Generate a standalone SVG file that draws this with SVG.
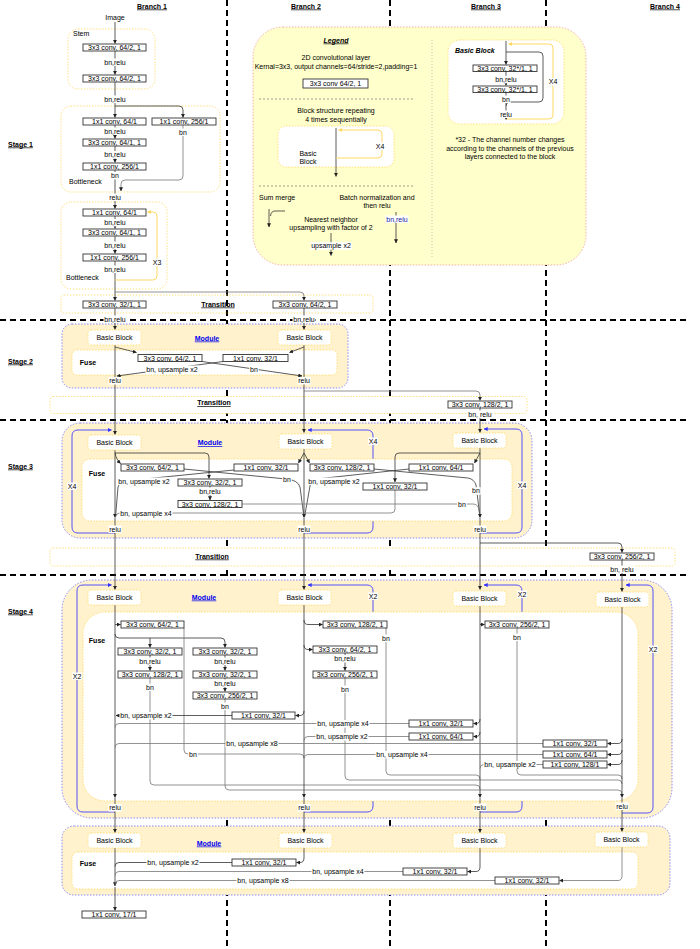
<svg xmlns="http://www.w3.org/2000/svg" width="700" height="949" viewBox="0 0 700 949">
<style>
text{font-family:"Liberation Sans",Arial,Helvetica,sans-serif;font-size:7px;fill:#000;text-anchor:middle}
.b{font-weight:bold}
.u{text-decoration:underline}
.i{font-style:italic}
.st{text-anchor:start}
.w{fill:#fff;stroke:none}
.cv{fill:#fff;stroke:#333;stroke-width:0.9}
.grid{stroke:#000;stroke-width:2;stroke-dasharray:6 4;fill:none}
.yb{fill:none;stroke:#ffd966;stroke-width:0.8;stroke-dasharray:1.5 1.5}
.yw{fill:#fff;stroke:#ffd966;stroke-width:0.8;stroke-dasharray:1.5 1.5}
.mod{fill:#fff2cc;stroke:#7070ff;stroke-width:0.8;stroke-dasharray:1.5 1.5}
.ln{fill:none;stroke:#333;stroke-width:0.8}
.lg{fill:none;stroke:#777;stroke-width:0.8}
.bl{fill:none;stroke:#4040ff;stroke-width:0.9}
.yl{fill:none;stroke:#ffd966;stroke-width:1}
.mt{fill:#0000ee;font-weight:bold;text-decoration:underline}
.sep{fill:none;stroke:#777;stroke-width:0.7;stroke-dasharray:2 2}
</style>
<defs>
<marker id="a" viewBox="0 0 6 6" refX="5.5" refY="3" markerWidth="4" markerHeight="4" markerUnits="userSpaceOnUse" orient="auto"><path d="M0,0L6,3L0,6z" fill="#222"/></marker>
<marker id="ab" viewBox="0 0 6 6" refX="5.5" refY="3" markerWidth="4" markerHeight="4" markerUnits="userSpaceOnUse" orient="auto"><path d="M0,0L6,3L0,6z" fill="#3030ff"/></marker>
<marker id="ay" viewBox="0 0 6 6" refX="5.5" refY="3" markerWidth="4" markerHeight="4" markerUnits="userSpaceOnUse" orient="auto"><path d="M0,0L6,3L0,6z" fill="#ffd966"/></marker>
</defs>
<rect width="700" height="949" fill="#fff"/>

<g id="grid">
<path class="grid" d="M227,0V949M390,0V949M546,0V949M0,320H686M0,420H686M0,575H686"/>
</g>

<g id="headers">
<text class="b u" x="152" y="8.5">Branch 1</text>
<text class="b u" x="306" y="8.5">Branch 2</text>
<text class="b u" x="486" y="8.5">Branch 3</text>
<text class="b u" x="665" y="8.5">Branch 4</text>
<text class="b u st" x="8" y="146.5">Stage 1</text>
<text class="b u st" x="8" y="363.5">Stage 2</text>
<text class="b u st" x="8" y="468.5">Stage 3</text>
<text class="b u st" x="8" y="613.5">Stage 4</text>
</g>

<!-- Legend -->
<g id="legend">
<rect x="253" y="27" width="333" height="238" rx="30" fill="#ffffcc" stroke="#f0a09c" stroke-width="0.8" stroke-dasharray="1.5 1.5"/>
<text class="b i u" x="336" y="42.5">Legend</text>
<text x="336" y="60.2">2D convolutional layer</text>
<text x="336" y="69.2">Kernal=3x3, output channels=64/stride=2,padding=1</text>
<rect class="cv" x="303" y="79" width="65" height="9"/>
<text x="335.5" y="86">3x3 conv 64/2, 1</text>
<path class="sep" d="M259,99H413M259,186H413"/>
<path fill="none" stroke="#aaa" stroke-width="0.7" stroke-dasharray="1 2" d="M432,40V257"/>
<text x="336" y="112.5">Block structure repeating</text>
<text x="336" y="121.5">4 times sequentially</text>
<rect class="yw" x="278" y="126" width="116" height="41" rx="8"/>
<path class="ln" d="M336,128V176.5" marker-end="url(#a)"/>
<path class="yl" d="M336,158H378Q382,158 382,154V134Q382,130 378,130H338.5" marker-end="url(#ay)"/>
<rect class="w" x="375" y="142.5" width="10" height="7.5"/><text x="380" y="148.5">X4</text>
<text x="308" y="155.8">Basic</text>
<text x="308" y="164.2">Block</text>
<text class="st" x="259" y="200.2">Sum merge</text>
<path class="ln" d="M269,209V227" marker-end="url(#a)"/>
<path class="ln" d="M270.5,216Q271,211 275,211H285"/>
<text x="377" y="200.2">Batch normalization and</text>
<text x="377" y="208.2">then relu</text>
<path class="ln" d="M396,212V243" marker-end="url(#a)"/>
<rect class="w" x="385.5" y="215.5" width="23" height="7.5"/><text x="397" y="221.5" style="fill:#1c1c9c">bn,relu</text>
<text x="331" y="221.8">Nearest neighbor</text>
<text x="331" y="229.8">upsampling with factor of 2</text>
<path class="ln" d="M331,233V255.5" marker-end="url(#a)"/>
<rect class="w" x="310.5" y="242.2" width="41" height="7.5"/><text x="331" y="248.2">upsample x2</text>
<rect class="yw" x="448" y="40" width="116" height="84" rx="12"/>
<text class="b i st" x="455" y="53.2">Basic Block</text>
<path class="yl" d="M506,119H549Q553,119 553,115V48Q553,44 549,44H508.5" marker-end="url(#ay)"/>
<path class="ln" d="M506,41V64.5" marker-end="url(#a)"/>
<path class="ln" d="M506,52H539Q543,52 543,56V98Q543,102 539,102H510Q506,102 506,106"/>
<path class="ln" d="M506,71.5V85.5" marker-end="url(#a)"/>
<path class="ln" d="M506,92.5V119.5" marker-end="url(#a)"/>
<rect class="cv" x="473" y="65" width="64" height="6.5"/>
<text x="505" y="70.5">3x3 conv, 32*/1, 1</text>
<rect class="cv" x="473" y="86" width="64" height="6.5"/>
<text x="505" y="91.5">3x3 conv, 32*/1, 1</text>
<rect class="w" x="494.5" y="75.8" width="23" height="7.5"/><text x="506" y="81.8">bn,relu</text>
<rect class="w" x="501.25" y="95.5" width="9.5" height="7.5"/><text x="506" y="101.5">bn</text>
<rect class="w" x="499.5" y="110.5" width="13" height="7.5"/><text x="506" y="116.5">relu</text>
<rect class="w" x="548" y="78.2" width="10" height="7.5"/><text x="553" y="84.2">X4</text>
<text x="510" y="141.8">*32 - The channel number changes</text>
<text x="510" y="150.8">according to the channels of the previous</text>
<text x="510" y="159.2">layers connected to the block</text>
</g>

<!-- containers -->
<g id="stem-box"><rect class="yb" x="68" y="29" width="87" height="60" rx="10"/><text class="st" x="73" y="36">Stem</text></g>
<g id="stage1-bottleneck1"><rect class="yb" x="61" y="106" width="159" height="86" rx="10"/><text class="st" x="69" y="183.5">Bottleneck</text></g>
<g id="stage1-bottleneck2"><rect class="yb" x="61" y="202" width="106" height="87" rx="10"/><text class="st" x="66" y="279.5">Bottleneck</text></g>
<g id="transition1"><rect class="yb" x="61" y="295" width="312" height="18" rx="3"/><text class="b u" x="218" y="306.5">Transition</text></g>
<g id="stage2-module"><rect class="mod" x="62" y="324" width="286" height="64" rx="10"/><text class="mt" x="207" y="340.5">Module</text>
<rect class="yw" x="72" y="350" width="265" height="25" rx="5"/><text class="b" x="88" y="364.5">Fuse</text></g>
<g id="transition2"><rect class="yw" x="50" y="396.5" width="477" height="17" rx="3"/><text class="b u" x="214" y="405">Transition</text></g>
<g id="stage3-module"><rect class="mod" x="62" y="423" width="470" height="115" rx="18"/><text class="mt" x="210" y="445.2">Module</text></g>
<g id="transition3"><rect class="yw" x="50" y="548" width="625" height="18" rx="3"/><text class="b u" x="212" y="558.5">Transition</text></g>
<g id="stage4-module"><rect class="mod" x="62" y="580" width="610" height="238" rx="30"/><text class="mt" x="204" y="599.5">Module</text></g>
<g id="final-module"><rect class="mod" x="62" y="826" width="608" height="69" rx="12"/><text class="mt" x="209" y="845.5">Module</text>
<rect class="yw" x="72" y="852" width="566" height="37" rx="6"/><text class="b" x="88" y="865.5">Fuse</text></g>

<!-- repeat loops -->
<g id="loops">
<path class="bl" d="M115,533H78Q72,533 72,527V436Q72,430 78,430H111.5" marker-end="url(#ab)"/>
<path class="bl" d="M304,533H367Q373,533 373,527V436Q373,430 367,430H308" marker-end="url(#ab)"/>
<path class="bl" d="M480,533H516Q522,533 522,527V435Q522,429 516,429H484" marker-end="url(#ab)"/>
<path class="bl" d="M115,812H83Q77,812 77,806V591Q77,585 83,585H111.5" marker-end="url(#ab)"/>
<path class="bl" d="M304,812H367Q373,812 373,806V591Q373,585 367,585H308" marker-end="url(#ab)"/>
<path class="bl" d="M480,812H516Q522,812 522,806V591Q522,585 516,585H484" marker-end="url(#ab)"/>
<path class="bl" d="M622,813H647Q653,813 653,807V591Q653,585 647,585H626" marker-end="url(#ab)"/>
</g>
<g id="stage3-fuse"><rect class="yw" x="82" y="459" width="430" height="62" rx="8"/><text class="b" x="97" y="475.5">Fuse</text></g>
<g id="stage4-fuse"><rect class="yw" x="83" y="612" width="555" height="189" rx="22"/><text class="b" x="97" y="642.5">Fuse</text></g>

<!-- connectors -->
<g id="connectors">
<path class="ln" d="M115,22V43.5" marker-end="url(#a)"/>
<path class="ln" d="M115,51V74.5" marker-end="url(#a)"/>
<path class="ln" d="M115,82V117.5" marker-end="url(#a)"/>
<path class="ln" d="M115,106H179Q183,106 183,110V117.5" marker-end="url(#a)"/>
<path class="ln" d="M115,125V138.5" marker-end="url(#a)"/>
<path class="ln" d="M115,146V162.5" marker-end="url(#a)"/>
<path class="ln" d="M115,170V208.5" marker-end="url(#a)"/>
<path class="lg" d="M183,125V176Q183,180 179,180H125Q121,180 121,184V191" marker-end="url(#a)"/>
<path class="ln" d="M115,216V228.5" marker-end="url(#a)"/>
<path class="ln" d="M115,236V253.5" marker-end="url(#a)"/>
<path class="ln" d="M115,261V300.5" marker-end="url(#a)"/>
<path class="yl" d="M115,280H153Q157,280 157,276V216Q157,212 153,212H147.5" marker-end="url(#ay)"/>
<path class="lg" d="M115,292H300Q304,292 304,296V300.5" marker-end="url(#a)"/>
<path class="ln" d="M115,308V329.5" marker-end="url(#a)"/>
<path class="ln" d="M304,308V329.5" marker-end="url(#a)"/>
<path class="ln" d="M115,345V434.5" marker-end="url(#a)"/>
<path class="ln" d="M304,345V432.5" marker-end="url(#a)"/>
<path class="ln" d="M115,347L136.5,352.5" marker-end="url(#a)"/>
<path class="ln" d="M304,347L289.5,352.5" marker-end="url(#a)"/>
<path class="ln" d="M202,361.5L302,376" marker-end="url(#a)"/>
<path class="ln" d="M223,361.5L117,376" marker-end="url(#a)"/>
<path class="lg" d="M304,391H476Q480,391 480,395V400.5" marker-end="url(#a)"/>
<path class="ln" d="M480,408V432.5" marker-end="url(#a)"/>
<path class="ln" d="M115,450V517.5" marker-end="url(#a)"/>
<path class="ln" d="M115,518V589.5" marker-end="url(#a)"/>
<path class="ln" d="M115,453C116,458 118,461 120.5,463.5" marker-end="url(#a)"/>
<path class="ln" d="M115,453H205Q209,453 209,457V478.5" marker-end="url(#a)"/>
<path class="ln" d="M184,469L286,479Q298,480 300,487L304,517"/>
<path class="ln" d="M234,470L124,481Q119,482 118,487L115.5,517"/>
<path class="ln" d="M304,449V517.5" marker-end="url(#a)"/>
<path class="ln" d="M304,518V589.5" marker-end="url(#a)"/>
<path class="ln" d="M304,453L298.5,463" marker-end="url(#a)"/>
<path class="ln" d="M304,453L309.5,463" marker-end="url(#a)"/>
<path class="ln" d="M374,469L468,478Q474,479 476,485L480,517"/>
<path class="ln" d="M409,469L316,479Q311,480 310,486L304.5,517"/>
<path class="ln" d="M210,486V500" marker-end="url(#a)"/>
<path class="lg" d="M242,504H473Q478,504 479,510L480,517"/>
<path class="ln" d="M480,448V517.5" marker-end="url(#a)"/>
<path class="ln" d="M480,518V589.5" marker-end="url(#a)"/>
<path class="ln" d="M480,453H399Q395,453 395,457V482" marker-end="url(#a)"/>
<path class="lg" d="M395,490V509Q395,513 391,513H120Q116,513 115.5,517"/>
<path class="ln" d="M480,453L474.5,463" marker-end="url(#a)"/>
<path class="ln" d="M480,543H618Q622,543 622,547V552.5" marker-end="url(#a)"/>
<path class="ln" d="M622,560V591.5" marker-end="url(#a)"/>
<path class="ln" d="M115,605V797.5" marker-end="url(#a)"/>
<path class="ln" d="M115,798V832.5" marker-end="url(#a)"/>
<path class="ln" d="M115,624.5H120.5" marker-end="url(#a)"/>
<path class="ln" d="M115,634Q115,638 119,638H221Q225,638 225,642V647.5" marker-end="url(#a)"/>
<path class="ln" d="M150,638V647.5" marker-end="url(#a)"/>
<path class="ln" d="M150,655V670.5" marker-end="url(#a)"/>
<path class="lg" d="M150,678V781Q150,785 154,785H476Q480,785 480,789"/>
<path class="ln" d="M225,655V670.5" marker-end="url(#a)"/>
<path class="ln" d="M225,678V691.5" marker-end="url(#a)"/>
<path class="lg" d="M225,699V786Q225,790 229,790H618Q622,790 622,794"/>
<path class="lg" d="M184,628V750Q184,754 188,754H300Q304,754 304,758"/>
<path class="ln" d="M304,605V797.5" marker-end="url(#a)"/>
<path class="ln" d="M304,798V832.5" marker-end="url(#a)"/>
<path class="ln" d="M304,620Q304,624.5 308,624.5H322.5" marker-end="url(#a)"/>
<path class="ln" d="M304,645Q304,649.5 308,649.5H312.5" marker-end="url(#a)"/>
<path class="ln" d="M304,711Q304,715.5 300,715.5H295.5" marker-end="url(#a)"/>
<path class="ln" d="M232,715.5H116" marker-end="url(#a)"/>
<path class="lg" d="M386,628V771Q386,775 390,775H476Q480,775 480,779"/>
<path class="ln" d="M345,653V670.5" marker-end="url(#a)"/>
<path class="lg" d="M345,678V776Q345,780 349,780H618Q622,780 622,784"/>
<path class="ln" d="M480,606V797.5" marker-end="url(#a)"/>
<path class="ln" d="M480,798V832.5" marker-end="url(#a)"/>
<path class="ln" d="M480,624.5H484.5" marker-end="url(#a)"/>
<path class="ln" d="M480,719Q480,723.5 476,723.5H473.5" marker-end="url(#a)"/>
<path class="ln" d="M480,732Q480,736.5 476,736.5H473.5" marker-end="url(#a)"/>
<path class="lg" d="M409,723.5H119Q115,723.5 115,727.5"/>
<path class="lg" d="M409,736.5H308Q304,736.5 304,740.5"/>
<path class="lg" d="M517,628V771Q517,775 521,775H618Q622,775 622,779"/>
<path class="ln" d="M622,607V797.5" marker-end="url(#a)"/>
<path class="ln" d="M622,798V831.5" marker-end="url(#a)"/>
<path class="ln" d="M622,739Q622,743.5 618,743.5H607.5" marker-end="url(#a)"/>
<path class="ln" d="M622,750Q622,754.5 618,754.5H607.5" marker-end="url(#a)"/>
<path class="ln" d="M622,760Q622,764.5 618,764.5H607.5" marker-end="url(#a)"/>
<path class="lg" d="M543,743.5H119Q115,743.5 115,747.5"/>
<path class="lg" d="M543,754.5H308Q304,754.5 304,758.5"/>
<path class="lg" d="M543,764.5H484Q480,764.5 480,768.5"/>
<path class="ln" d="M115,848V886" marker-end="url(#a)"/>
<path class="ln" d="M115,887V910.5" marker-end="url(#a)"/>
<path class="ln" d="M304,848V858Q304,862.5 300,862.5H296.5" marker-end="url(#a)"/>
<path class="ln" d="M232,862.5H119Q115,862.5 115,866.5"/>
<path class="ln" d="M480,848V867Q480,871.5 476,871.5H467.5" marker-end="url(#a)"/>
<path class="lg" d="M403,871.5H119Q115,871.5 115,875.5"/>
<path class="lg" d="M622,847V876Q622,880.5 618,880.5H559.5" marker-end="url(#a)"/>
<path class="lg" d="M495,880.5H119Q115,880.5 115,884.5"/>
</g>

<!-- nodes -->
<g id="image"><text x="115" y="20">Image</text></g>
<g id="stem-c1"><rect class="cv" x="83" y="44" width="63" height="7"/><text x="114.5" y="50">3x3 conv, 64/2, 1</text></g>
<g id="stem-c2"><rect class="cv" x="83" y="75" width="63" height="7"/><text x="114.5" y="81">3x3 conv, 64/2, 1</text></g>
<g id="s1-c1"><rect class="cv" x="83" y="118" width="63" height="7"/><text x="114.5" y="124">1x1 conv, 64/1</text></g>
<g id="s1-skip"><rect class="cv" x="152" y="118" width="64" height="7"/><text x="184" y="124">1x1 conv, 256/1</text></g>
<g id="s1-c2"><rect class="cv" x="83" y="139" width="63" height="7"/><text x="114.5" y="145">3x3 conv, 64/1, 1</text></g>
<g id="s1-c3"><rect class="cv" x="83" y="163" width="63" height="7"/><text x="114.5" y="169">1x1 conv, 256/1</text></g>
<g id="s1-c4"><rect class="cv" x="83" y="209" width="63" height="7"/><text x="114.5" y="215">1x1 conv, 64/1</text></g>
<g id="s1-c5"><rect class="cv" x="83" y="229" width="63" height="7"/><text x="114.5" y="235">3x3 conv, 64/1, 1</text></g>
<g id="s1-c6"><rect class="cv" x="83" y="254" width="63" height="7"/><text x="114.5" y="260">1x1 conv, 256/1</text></g>
<g id="t1-c1"><rect class="cv" x="83" y="301" width="63" height="7"/><text x="114.5" y="307">3x3 conv, 32/1, 1</text></g>
<g id="t1-c2"><rect class="cv" x="273" y="301" width="64" height="7"/><text x="305" y="307">3x3 conv, 64/2, 1</text></g>
<g id="s2-bb1"><rect class="yw" x="88" y="330" width="53" height="15" rx="3"/><text x="114.5" y="340">Basic Block</text></g>
<g id="s2-bb2"><rect class="yw" x="278" y="330" width="53" height="15" rx="3"/><text x="304.5" y="340">Basic Block</text></g>
<g id="s2-c1"><rect class="cv" x="138" y="354.5" width="64" height="7"/><text x="170" y="360.5">3x3 conv, 64/2, 1</text></g>
<g id="s2-c2"><rect class="cv" x="223" y="354.5" width="65" height="7"/><text x="255.5" y="360.5">1x1 conv, 32/1</text></g>
<g id="t2-c1"><rect class="cv" x="448" y="401" width="64" height="7"/><text x="480" y="407">3x3 conv, 128/2, 1</text></g>
<g id="s3-bb1"><rect class="yw" x="88" y="435" width="53" height="15" rx="3"/><text x="114.5" y="445">Basic Block</text></g>
<g id="s3-bb2"><rect class="yw" x="279" y="434" width="53" height="15" rx="3"/><text x="305.5" y="444">Basic Block</text></g>
<g id="s3-bb3"><rect class="yw" x="453" y="433" width="53" height="15" rx="3"/><text x="479.5" y="443">Basic Block</text></g>
<g id="s3-c1"><rect class="cv" x="121" y="464" width="63" height="7"/><text x="152.5" y="470">3x3 conv, 64/2, 1</text></g>
<g id="s3-c2"><rect class="cv" x="234" y="464" width="64" height="7"/><text x="266" y="470">1x1 conv, 32/1</text></g>
<g id="s3-c3"><rect class="cv" x="310" y="464" width="64" height="7"/><text x="342" y="470">3x3 conv, 128/2, 1</text></g>
<g id="s3-c4"><rect class="cv" x="409" y="464" width="64" height="7"/><text x="441" y="470">1x1 conv, 64/1</text></g>
<g id="s3-c5"><rect class="cv" x="178" y="479" width="64" height="7"/><text x="210" y="485">3x3 conv, 32/2, 1</text></g>
<g id="s3-c6"><rect class="cv" x="178" y="500.5" width="64" height="7"/><text x="210" y="506.5">3x3 conv, 128/2, 1</text></g>
<g id="s3-c7"><rect class="cv" x="363" y="483" width="64" height="7"/><text x="395" y="489">1x1 conv, 32/1</text></g>
<g id="t3-c1"><rect class="cv" x="590" y="553" width="64" height="7"/><text x="622" y="559">3x3 conv, 256/2, 1</text></g>
<g id="s4-bb1"><rect class="yw" x="88" y="590" width="53" height="15" rx="3"/><text x="114.5" y="600">Basic Block</text></g>
<g id="s4-bb2"><rect class="yw" x="278" y="590" width="53" height="15" rx="3"/><text x="304.5" y="600">Basic Block</text></g>
<g id="s4-bb3"><rect class="yw" x="453" y="591" width="53" height="15" rx="3"/><text x="479.5" y="601">Basic Block</text></g>
<g id="s4-bb4"><rect class="yw" x="596" y="592" width="53" height="15" rx="3"/><text x="622.5" y="602">Basic Block</text></g>
<g id="s4-c1"><rect class="cv" x="121" y="621" width="63" height="7"/><text x="152.5" y="627">3x3 conv, 64/2, 1</text></g>
<g id="s4-c2"><rect class="cv" x="118" y="648" width="64" height="7"/><text x="150" y="654">3x3 conv, 32/2, 1</text></g>
<g id="s4-c3"><rect class="cv" x="118" y="671" width="64" height="7"/><text x="150" y="677">3x3 conv, 128/2, 1</text></g>
<g id="s4-c4"><rect class="cv" x="193" y="648" width="64" height="7"/><text x="225" y="654">3x3 conv, 32/2, 1</text></g>
<g id="s4-c5"><rect class="cv" x="193" y="671" width="64" height="7"/><text x="225" y="677">3x3 conv, 32/2, 1</text></g>
<g id="s4-c6"><rect class="cv" x="193" y="692" width="64" height="7"/><text x="225" y="698">3x3 conv, 256/2, 1</text></g>
<g id="s4-c7"><rect class="cv" x="232" y="712" width="63" height="7"/><text x="263.5" y="718">1x1 conv, 32/1</text></g>
<g id="s4-c8"><rect class="cv" x="323" y="621" width="64" height="7"/><text x="355" y="627">3x3 conv, 128/2, 1</text></g>
<g id="s4-c9"><rect class="cv" x="313" y="646" width="64" height="7"/><text x="345" y="652">3x3 conv, 64/2, 1</text></g>
<g id="s4-c10"><rect class="cv" x="313" y="671" width="64" height="7"/><text x="345" y="677">3x3 conv, 256/2, 1</text></g>
<g id="s4-c11"><rect class="cv" x="485" y="621" width="64" height="7"/><text x="517" y="627">3x3 conv, 256/2, 1</text></g>
<g id="s4-c12"><rect class="cv" x="409" y="720" width="64" height="7"/><text x="441" y="726">1x1 conv, 32/1</text></g>
<g id="s4-c13"><rect class="cv" x="409" y="733" width="64" height="7"/><text x="441" y="739">1x1 conv, 64/1</text></g>
<g id="s4-c14"><rect class="cv" x="543" y="740" width="64" height="7"/><text x="575" y="746">1x1 conv, 32/1</text></g>
<g id="s4-c15"><rect class="cv" x="543" y="751" width="64" height="7"/><text x="575" y="757">1x1 conv, 64/1</text></g>
<g id="s4-c16"><rect class="cv" x="543" y="761" width="64" height="7"/><text x="575" y="767">1x1 conv, 128/1</text></g>
<g id="f-bb1"><rect class="yw" x="88" y="833" width="53" height="15" rx="3"/><text x="114.5" y="843">Basic Block</text></g>
<g id="f-bb2"><rect class="yw" x="279" y="833" width="53" height="15" rx="3"/><text x="305.5" y="843">Basic Block</text></g>
<g id="f-bb3"><rect class="yw" x="453" y="833" width="53" height="15" rx="3"/><text x="479.5" y="843">Basic Block</text></g>
<g id="f-bb4"><rect class="yw" x="595" y="832" width="53" height="15" rx="3"/><text x="621.5" y="842">Basic Block</text></g>
<g id="f-c1"><rect class="cv" x="232" y="859" width="64" height="7"/><text x="264" y="865">1x1 conv, 32/1</text></g>
<g id="f-c2"><rect class="cv" x="403" y="868" width="64" height="7"/><text x="435" y="874">1x1 conv, 32/1</text></g>
<g id="f-c3"><rect class="cv" x="495" y="877" width="64" height="7"/><text x="527" y="883">1x1 conv, 32/1</text></g>
<g id="final-conv"><rect class="cv" x="82" y="911" width="64" height="7"/><text x="114" y="917">1x1 conv, 17/1</text></g>

<!-- connector labels -->
<g id="labels">
<rect class="w" x="103.5" y="58.5" width="23" height="7.5"/><text x="115" y="64.5">bn,relu</text>
<rect class="w" x="103.5" y="95.5" width="23" height="7.5"/><text x="115" y="101.5">bn,relu</text>
<rect class="w" x="178.25" y="128.5" width="9.5" height="7.5"/><text x="183" y="134.5">bn</text>
<rect class="w" x="103.5" y="127.5" width="23" height="7.5"/><text x="115" y="133.5">bn,relu</text>
<rect class="w" x="103.5" y="151" width="23" height="7.5"/><text x="115" y="157">bn,relu</text>
<rect class="w" x="110.25" y="172" width="9.5" height="7.5"/><text x="115" y="178">bn</text>
<rect class="w" x="108.5" y="193.5" width="13" height="7.5"/><text x="115" y="199.5">relu</text>
<rect class="w" x="103.5" y="219" width="23" height="7.5"/><text x="115" y="225">bn,relu</text>
<rect class="w" x="103.5" y="241.5" width="23" height="7.5"/><text x="115" y="247.5">bn,relu</text>
<rect class="w" x="103.5" y="265.5" width="23" height="7.5"/><text x="115" y="271.5">bn,relu</text>
<rect class="w" x="152" y="258.5" width="10" height="7.5"/><text x="157" y="264.5">X3</text>
<rect class="w" x="103.5" y="315.5" width="23" height="7.5"/><text x="115" y="321.5">bn,relu</text>
<rect class="w" x="292.5" y="315.5" width="23" height="7.5"/><text x="304" y="321.5">bn,relu</text>
<rect class="w" x="249.25" y="365.5" width="9.5" height="7.5"/><text x="254" y="371.5">bn</text>
<rect class="w" x="145.5" y="365.5" width="53" height="7.5"/><text x="172" y="371.5">bn, upsample x2</text>
<rect class="w" x="108.5" y="377" width="13" height="7.5"/><text x="115" y="383">relu</text>
<rect class="w" x="297.5" y="377" width="13" height="7.5"/><text x="304" y="383">relu</text>
<rect class="w" x="467.5" y="410.5" width="25" height="7.5"/><text x="480" y="416.5">bn, relu</text>
<rect class="w" x="67" y="482.5" width="10" height="7.5"/><text x="72" y="488.5">X4</text>
<rect class="w" x="368" y="437.5" width="10" height="7.5"/><text x="373" y="443.5">X4</text>
<rect class="w" x="517" y="481.5" width="10" height="7.5"/><text x="522" y="487.5">X4</text>
<rect class="w" x="117.5" y="477.5" width="53" height="7.5"/><text x="144" y="483.5">bn, upsample x2</text>
<rect class="w" x="282.25" y="476" width="9.5" height="7.5"/><text x="287" y="482">bn</text>
<rect class="w" x="307.5" y="477.5" width="53" height="7.5"/><text x="334" y="483.5">bn, upsample x2</text>
<rect class="w" x="471.25" y="487.2" width="9.5" height="7.5"/><text x="476" y="493.2">bn</text>
<rect class="w" x="198.5" y="487.5" width="23" height="7.5"/><text x="210" y="493.5">bn,relu</text>
<rect class="w" x="457.25" y="500.5" width="9.5" height="7.5"/><text x="462" y="506.5">bn</text>
<rect class="w" x="119.5" y="509.5" width="53" height="7.5"/><text x="146" y="515.5">bn, upsample x4</text>
<rect class="w" x="108.5" y="525.5" width="13" height="7.5"/><text x="115" y="531.5">relu</text>
<rect class="w" x="297.5" y="525.5" width="13" height="7.5"/><text x="304" y="531.5">relu</text>
<rect class="w" x="473.5" y="525.5" width="13" height="7.5"/><text x="480" y="531.5">relu</text>
<rect class="w" x="609.5" y="565.5" width="25" height="7.5"/><text x="622" y="571.5">bn, relu</text>
<rect class="w" x="72" y="672.5" width="10" height="7.5"/><text x="77" y="678.5">X2</text>
<rect class="w" x="368" y="592.5" width="10" height="7.5"/><text x="373" y="598.5">X2</text>
<rect class="w" x="517" y="590.5" width="10" height="7.5"/><text x="522" y="596.5">X2</text>
<rect class="w" x="648" y="645.5" width="10" height="7.5"/><text x="653" y="651.5">X2</text>
<rect class="w" x="138.5" y="657.5" width="23" height="7.5"/><text x="150" y="663.5">bn,relu</text>
<rect class="w" x="213.5" y="657.5" width="23" height="7.5"/><text x="225" y="663.5">bn,relu</text>
<rect class="w" x="213.5" y="679.5" width="23" height="7.5"/><text x="225" y="685.5">bn,relu</text>
<rect class="w" x="333.5" y="655" width="23" height="7.5"/><text x="345" y="661">bn,relu</text>
<rect class="w" x="145.25" y="683.5" width="9.5" height="7.5"/><text x="150" y="689.5">bn</text>
<rect class="w" x="220.25" y="702.5" width="9.5" height="7.5"/><text x="225" y="708.5">bn</text>
<rect class="w" x="188.25" y="750.5" width="9.5" height="7.5"/><text x="193" y="756.5">bn</text>
<rect class="w" x="381.25" y="634.5" width="9.5" height="7.5"/><text x="386" y="640.5">bn</text>
<rect class="w" x="340.25" y="685.5" width="9.5" height="7.5"/><text x="345" y="691.5">bn</text>
<rect class="w" x="512.25" y="633.5" width="9.5" height="7.5"/><text x="517" y="639.5">bn</text>
<rect class="w" x="119.5" y="712" width="53" height="7.5"/><text x="146" y="718">bn, upsample x2</text>
<rect class="w" x="316.5" y="720" width="53" height="7.5"/><text x="343" y="726">bn, upsample x4</text>
<rect class="w" x="315.5" y="733" width="53" height="7.5"/><text x="342" y="739">bn, upsample x2</text>
<rect class="w" x="225.5" y="740" width="53" height="7.5"/><text x="252" y="746">bn, upsample x8</text>
<rect class="w" x="375.5" y="751" width="53" height="7.5"/><text x="402" y="757">bn, upsample x4</text>
<rect class="w" x="483.5" y="761" width="53" height="7.5"/><text x="510" y="767">bn, upsample x2</text>
<rect class="w" x="108.5" y="804" width="13" height="7.5"/><text x="115" y="810">relu</text>
<rect class="w" x="297.5" y="804" width="13" height="7.5"/><text x="304" y="810">relu</text>
<rect class="w" x="473.5" y="803.5" width="13" height="7.5"/><text x="480" y="809.5">relu</text>
<rect class="w" x="615.5" y="802.5" width="13" height="7.5"/><text x="622" y="808.5">relu</text>
<rect class="w" x="146.5" y="859" width="53" height="7.5"/><text x="173" y="865">bn, upsample x2</text>
<rect class="w" x="311.5" y="868" width="53" height="7.5"/><text x="338" y="874">bn, upsample x4</text>
<rect class="w" x="236.5" y="877" width="53" height="7.5"/><text x="263" y="883">bn, upsample x8</text>
</g>
</svg>
